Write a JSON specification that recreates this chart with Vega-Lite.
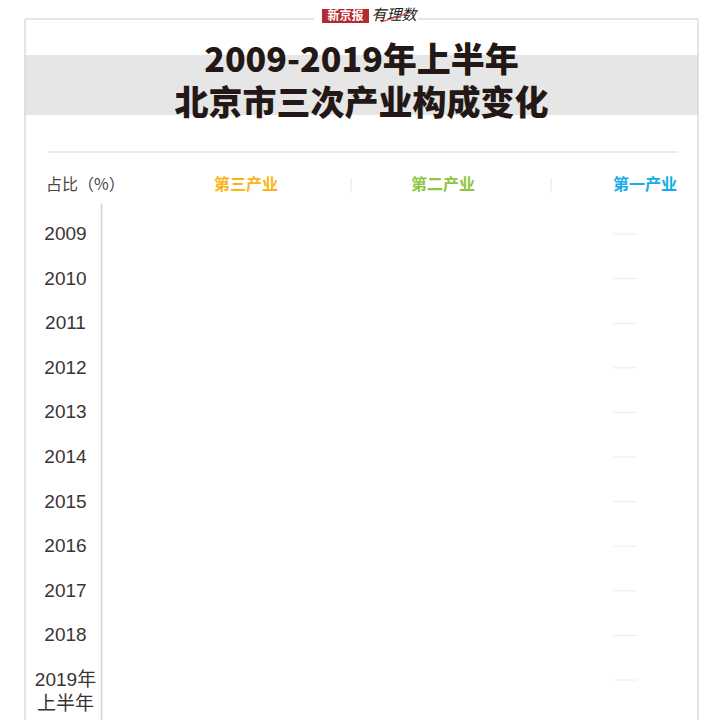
{
  "$schema": "https://vega.github.io/schema/vega-lite/v6.json",
  "padding": {"left": 24, "top": 0, "right": 23, "bottom": 0},
  "background": "#ffffff",
  "spacing": 0,
  "bounds": "flush",
  "config": {"view": {"stroke": null}, "font": "Noto Sans CJK SC"},
  "datasets": {
    "one": [{"k": 1}],
    "rows": [
      {"year": "2009"}, {"year": "2010"}, {"year": "2011"}, {"year": "2012"},
      {"year": "2013"}, {"year": "2014"}, {"year": "2015"}, {"year": "2016"},
      {"year": "2017"}, {"year": "2018"}, {"year": "2019年上半年"}
    ]
  },
  "vconcat": [
    {
      "width": 673, "height": 55,
      "data": {"name": "one"},
      "layer": [
        {"mark": {"type": "rule", "stroke": "#dcdcdc", "strokeWidth": 1.5}, "encoding": {"x": {"value": 0}, "x2": {"value": 289}, "y": {"value": 19}}},
        {"mark": {"type": "rule", "stroke": "#dcdcdc", "strokeWidth": 1.5}, "encoding": {"x": {"value": 393}, "x2": {"value": 673}, "y": {"value": 19}}},
        {"mark": {"type": "rule", "stroke": "#dcdcdc", "strokeWidth": 1.5}, "encoding": {"x": {"value": 0}, "y": {"value": 19}, "y2": {"value": 55}}},
        {"mark": {"type": "rule", "stroke": "#dcdcdc", "strokeWidth": 1.5}, "encoding": {"x": {"value": 673}, "y": {"value": 19}, "y2": {"value": 55}}},
        {"mark": {"type": "rect", "fill": "#b52b2e"}, "encoding": {"x": {"value": 297}, "x2": {"value": 344}, "y": {"value": 9}, "y2": {"value": 23}}},
        {"mark": {"type": "text", "text": "新京报", "fill": "#ffffff", "fontSize": 12, "fontWeight": "bold", "align": "center", "baseline": "middle"}, "encoding": {"x": {"value": 320.5}, "y": {"value": 16}}},
        {"mark": {"type": "text", "text": "有理数", "fill": "#222222", "fontSize": 15, "fontStyle": "italic", "align": "center", "baseline": "middle"}, "encoding": {"x": {"value": 369}, "y": {"value": 15}}},
        {"mark": {"type": "rule", "stroke": "#d7282f", "strokeWidth": 1}, "encoding": {"x": {"value": 356}, "x2": {"value": 384}, "y": {"value": 22}, "y2": {"value": 13}}}
      ]
    },
    {
      "width": 673, "height": 60,
      "view": {"fill": "#e6e6e6", "stroke": null},
      "data": {"name": "one"},
      "layer": [
        {"mark": {"type": "rule", "stroke": "#d6d6d6", "strokeWidth": 1.5}, "encoding": {"x": {"value": 0}, "y": {"value": 0}, "y2": {"value": 60}}},
        {"mark": {"type": "rule", "stroke": "#d6d6d6", "strokeWidth": 1.5}, "encoding": {"x": {"value": 673}, "y": {"value": 0}, "y2": {"value": 60}}},
        {"mark": {"type": "text", "text": "2009-2019年上半年", "fontSize": 34, "fontWeight": 900, "fill": "#231815", "align": "center", "baseline": "middle"}, "encoding": {"y": {"value": 7}}},
        {"mark": {"type": "text", "text": "北京市三次产业构成变化", "fontSize": 34, "fontWeight": 900, "fill": "#231815", "align": "center", "baseline": "middle"}, "encoding": {"y": {"value": 50}}}
      ]
    },
    {
      "width": 673, "height": 88,
      "data": {"name": "one"},
      "layer": [
        {"mark": {"type": "rule", "stroke": "#dcdcdc", "strokeWidth": 1.5}, "encoding": {"x": {"value": 0}, "y": {"value": 0}, "y2": {"value": 88}}},
        {"mark": {"type": "rule", "stroke": "#dcdcdc", "strokeWidth": 1.5}, "encoding": {"x": {"value": 673}, "y": {"value": 0}, "y2": {"value": 88}}},
        {"mark": {"type": "rule", "stroke": "#e3e3e3", "strokeWidth": 1.5}, "encoding": {"x": {"value": 23}, "x2": {"value": 653}, "y": {"value": 37}}},
        {"mark": {"type": "rule", "stroke": "#e6e6e6", "strokeWidth": 1}, "encoding": {"x": {"value": 326}, "y": {"value": 63}, "y2": {"value": 78}}},
        {"mark": {"type": "rule", "stroke": "#e6e6e6", "strokeWidth": 1}, "encoding": {"x": {"value": 526}, "y": {"value": 63}, "y2": {"value": 78}}},
        {"mark": {"type": "text", "text": "占比（%）", "fill": "#4a4545", "fontSize": 16, "align": "left", "baseline": "middle"}, "encoding": {"x": {"value": 21}, "y": {"value": 70}}},
        {"mark": {"type": "text", "text": "第三产业", "fill": "#fbb415", "fontSize": 16, "fontWeight": "bold", "align": "center", "baseline": "middle"}, "encoding": {"x": {"value": 221}, "y": {"value": 70}}},
        {"mark": {"type": "text", "text": "第二产业", "fill": "#8dc63f", "fontSize": 16, "fontWeight": "bold", "align": "center", "baseline": "middle"}, "encoding": {"x": {"value": 418}, "y": {"value": 70}}},
        {"mark": {"type": "text", "text": "第一产业", "fill": "#12ade8", "fontSize": 16, "fontWeight": "bold", "align": "center", "baseline": "middle"}, "encoding": {"x": {"value": 620}, "y": {"value": 70}}}
      ]
    },
    {
      "width": 673, "height": 517,
      "layer": [
        {
          "data": {"name": "one"},
          "mark": {"type": "rule", "stroke": "#dcdcdc", "strokeWidth": 1.5},
          "encoding": {"x": {"value": 0}, "y": {"value": 0}, "y2": {"value": 517}}
        },
        {
          "data": {"name": "one"},
          "mark": {"type": "rule", "stroke": "#dcdcdc", "strokeWidth": 1.5},
          "encoding": {"x": {"value": 673}, "y": {"value": 0}, "y2": {"value": 517}}
        },
        {
          "data": {"name": "rows"},
          "mark": {"type": "rule", "stroke": "#ececec", "strokeWidth": 1},
          "encoding": {
            "y": {
              "field": "year", "type": "nominal", "sort": null,
              "scale": {"type": "band", "paddingInner": 0, "paddingOuter": 0.296, "align": 0.33},
              "axis": {
                "orient": "left", "offset": -76, "title": null,
                "domain": true, "domainColor": "#d4d4d4", "domainWidth": 1.5,
                "ticks": false, "grid": false,
                "labelAlign": "center", "labelBaseline": "middle", "labelPadding": 36,
                "labelFont": "Liberation Sans Narrow, Liberation Sans, Noto Sans CJK SC",
                "labelFontSize": 19, "labelColor": "#3a3434", "labelLineHeight": 24,
                "labelExpr": "datum.value == '2019年上半年' ? ['2019年', '上半年'] : datum.label"
              }
            },
            "x": {"datum": 87.4, "type": "quantitative", "scale": {"domain": [0, 100]}, "axis": null},
            "x2": {"datum": 90.9}
          }
        }
      ]
    }
  ]
}
